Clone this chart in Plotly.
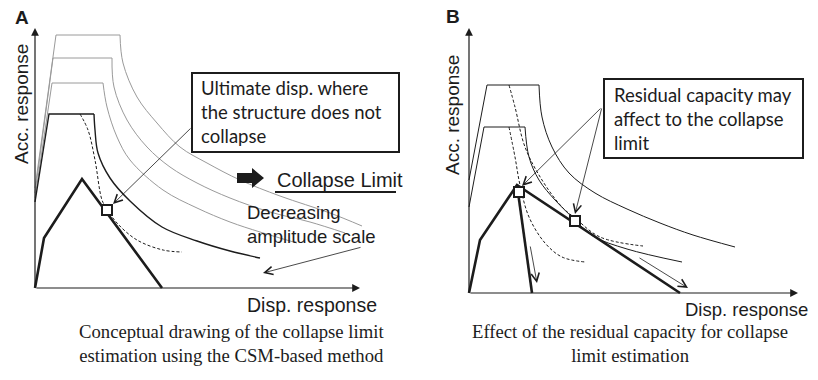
import plotly.graph_objects as go

W, H = 818, 380

# ---------------- Panel A : collapse limit by the CSM-based method ----------------
# capacity curve (displacement, acceleration)
cap_a_disp = [0, 9, 47, 127]
cap_a_acc = [0, 50, 109, 0]

# demand spectra for decreasing amplitude scale: rise, plateau corner, then decay
spec_a1_disp = [0, 14, 59, 60, 63, 75, 95, 127, 162, 195, 225]
spec_a1_acc = [86, 174, 174, 158, 135, 110, 87, 61, 47, 37, 30]
spec_a2_disp = [0, 17, 68, 72, 82, 95, 128, 162, 195, 225, 262]
spec_a2_acc = [90, 205, 205, 181, 151, 128, 98, 80, 66, 56, 45]
spec_a3_disp = [0, 18, 77, 79, 92, 112, 135, 162, 195, 235, 275, 310]
spec_a3_acc = [95, 230, 230, 201, 168, 141, 121, 105, 90, 76, 66, 55]
spec_a4_disp = [0, 21, 85, 88, 102, 122, 145, 172, 205, 245, 295, 327]
spec_a4_acc = [100, 253, 253, 225, 191, 165, 141, 125, 108, 92, 75, 62]

# damping-reduced demand spectrum
red_a_disp = [45, 53, 60, 67, 72, 82, 102, 128, 147]
red_a_acc = [174, 158, 128, 88, 79, 65, 48, 38, 36]

# ultimate displacement point
ult_a_disp = [72]
ult_a_acc = [78]

# ---------------- Panel B : effect of residual capacity ----------------
cap_b_disp = [0, 11, 48, 211]
cap_b_acc = [0, 53, 108, 0]
cap_b_drop_disp = [48, 63]
cap_b_drop_acc = [108, 0]

spec_b1_disp = [0, 15, 56, 60, 70, 86, 103, 124, 158, 213]
spec_b1_acc = [86, 166, 166, 136, 113, 93, 76, 57, 44, 31]
spec_b2_disp = [0, 18, 70, 73, 83, 100, 126, 158, 191, 224, 266]
spec_b2_acc = [113, 208, 208, 176, 146, 120, 100, 84, 70, 58, 46]

red_b1_disp = [40, 46, 51, 60, 76, 93, 116]
red_b1_acc = [166, 136, 108, 76, 50, 36, 31]
red_b2_disp = [40, 46, 56, 73, 93, 106, 131, 174]
red_b2_acc = [208, 186, 146, 113, 86, 75, 56, 47]

pts_b_disp = [50, 106]
pts_b_acc = [101, 72]

INK = "#1c1c1c"
GRAY = "#9a9a9a"
SANS = "Liberation Sans"
SERIF = "Liberation Serif"
LABEL = "Lato"

fig = go.Figure()


def line(xs, ys, panel, color, width, dash=None, spline=False):
    xa, ya = ("x", "y") if panel == "A" else ("x2", "y2")
    ln = dict(color=color, width=width)
    if dash:
        ln["dash"] = dash
    if spline:
        ln["shape"] = "spline"
        ln["smoothing"] = 1.0
    fig.add_trace(go.Scatter(x=xs, y=ys, xaxis=xa, yaxis=ya, mode="lines",
                             line=ln, hoverinfo="skip", showlegend=False,
                             cliponaxis=False))


def spectrum(d, a, panel, color, width):
    line(d[:3], a[:3], panel, color, width)
    line(d[2:], a[2:], panel, color, width, spline=True)


def squares(d, a, panel):
    xa, ya = ("x", "y") if panel == "A" else ("x2", "y2")
    fig.add_trace(go.Scatter(x=d, y=a, xaxis=xa, yaxis=ya, mode="markers",
                             marker=dict(symbol="square", size=10, color="white",
                                         line=dict(color=INK, width=2)),
                             hoverinfo="skip", showlegend=False, cliponaxis=False))


# panel A
for d, a in [(spec_a4_disp, spec_a4_acc), (spec_a3_disp, spec_a3_acc),
             (spec_a2_disp, spec_a2_acc)]:
    spectrum(d, a, "A", GRAY, 1)
spectrum(spec_a1_disp, spec_a1_acc, "A", INK, 1.4)
line(red_a_disp, red_a_acc, "A", INK, 1, dash="3px,2px", spline=True)
line(cap_a_disp, cap_a_acc, "A", INK, 2.6)
squares(ult_a_disp, ult_a_acc, "A")

# panel B
spectrum(spec_b2_disp, spec_b2_acc, "B", INK, 1)
spectrum(spec_b1_disp, spec_b1_acc, "B", INK, 1)
line(red_b1_disp, red_b1_acc, "B", INK, 1, dash="3px,2px", spline=True)
line(red_b2_disp, red_b2_acc, "B", INK, 1, dash="3px,2px", spline=True)
line(cap_b_disp, cap_b_acc, "B", INK, 2.6)
line(cap_b_drop_disp, cap_b_drop_acc, "B", INK, 2.6)
squares(pts_b_disp, pts_b_acc, "B")


def px_x(px):
    return px / W


def px_y(py):
    return 1 - py / H


ann = []


def arrow(tip, tail, panel, head=5, size=2.0, width=0.8):
    xr, yr = ("x", "y") if panel == "A" else ("x2", "y2")
    ann.append(dict(x=tip[0], y=tip[1], ax=tail[0], ay=tail[1], xref=xr, yref=yr,
                    axref=xr, ayref=yr, text="", showarrow=True, arrowhead=head,
                    arrowsize=size, arrowwidth=width, arrowcolor=INK, standoff=0))


# axes with arrow heads
arrow((325, 0), (0, 0), "A", head=2, size=1.3, width=1.2)
arrow((0, 260), (0, 0), "A", head=2, size=1.3, width=1.2)
arrow((329, 0), (0, 0), "B", head=2, size=1.3, width=1.2)
arrow((0, 265), (0, 0), "B", head=2, size=1.3, width=1.2)

# pointers
arrow((78, 84), (157, 161), "A")
arrow((228, 15), (327, 41), "A")
arrow((53, 107), (133, 186), "B")
arrow((106, 79), (133, 186), "B")
arrow((68, 10), (61, 48), "B")
arrow((219, 5), (169, 36), "B")


def text(s, x, y, size=18, family=SANS, xanchor="center", yanchor="middle",
         angle=0, xref="paper", yref="paper", align="center"):
    ann.append(dict(text=s, x=x, y=y, xref=xref, yref=yref, showarrow=False,
                    xanchor=xanchor, yanchor=yanchor, textangle=angle, align=align,
                    font=dict(family=family, size=size, color=INK)))


text("<b>A</b>", px_x(22), px_y(17), size=19)
text("<b>B</b>", px_x(453), px_y(16), size=19)
text("Acc. response", px_x(22), px_y(104), size=19, angle=-90)
text("Acc. response", px_x(453), px_y(115), size=19, angle=-90)
text("Disp. response", px_x(312), px_y(305), size=19.5)
text("Disp. response", px_x(746), px_y(309), size=18.5)

text("Ultimate disp. where<br>the structure does not<br>collapse", 164, 176,
     size=18.5, family=LABEL, xanchor="left", xref="x", yref="y", align="left")
text("Residual capacity may<br>affect to the collapse<br>limit", 143, 174,
     size=18.5, family=LABEL, xanchor="left", xref="x2", yref="y2", align="left")
text("Collapse Limit", 240, 108, size=20, xanchor="left", xref="x", yref="y")
text("Decreasing<br>amplitude scale", 210, 64, size=18.5, xanchor="left",
     xref="x", yref="y", align="left")

text("Conceptual drawing of the collapse limit<br>"
     "estimation using the CSM-based method", px_x(231), px_y(343),
     size=18.7, family=SERIF)
text("Effect of the residual capacity for collapse<br>limit estimation",
     px_x(630), px_y(343), size=18.7, family=SERIF)

shapes = [
    dict(type="rect", xref="x", yref="y", x0=157, x1=364, y0=136, y1=215,
         line=dict(color=INK, width=2), fillcolor="rgba(0,0,0,0)"),
    dict(type="rect", xref="x2", yref="y2", x0=135, x1=334, y0=135, y1=214,
         line=dict(color=INK, width=2), fillcolor="rgba(0,0,0,0)"),
    dict(type="line", xref="x", yref="y", x0=240, x1=361, y0=96, y1=96,
         line=dict(color=INK, width=1.8)),
    dict(type="path", xref="x", yref="y",
         path="M202,105 L217,105 L217,100 L229,110 L217,120 L217,115 L202,115 Z",
         fillcolor=INK, line=dict(width=0)),
]

ax_common = dict(visible=False, fixedrange=True)
fig.update_layout(
    width=W, height=H, margin=dict(l=0, r=0, t=0, b=0),
    paper_bgcolor="white", plot_bgcolor="rgba(0,0,0,0)",
    xaxis=dict(domain=[30 / W, 410 / W], range=[-5, 375], anchor="y", **ax_common),
    yaxis=dict(domain=[87 / H, 357 / H], range=[-5, 265], anchor="x", **ax_common),
    xaxis2=dict(domain=[464 / W, 814 / W], range=[-5, 345], anchor="y2", **ax_common),
    yaxis2=dict(domain=[82 / H, 357 / H], range=[-5, 270], anchor="x2", **ax_common),
    annotations=ann, shapes=shapes, showlegend=False,
)

fig.write_html("out.html")
